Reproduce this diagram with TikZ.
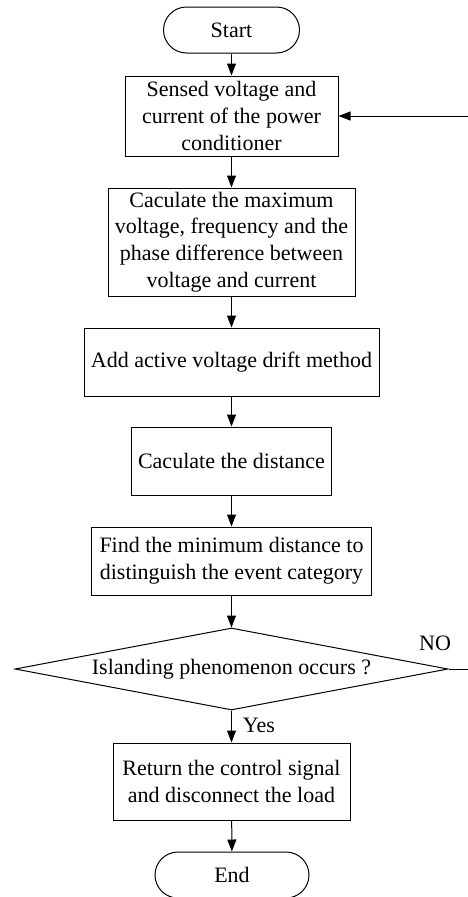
\documentclass[tikz,border=0pt]{standalone}
\usepackage{fontspec}
\setmainfont{Liberation Serif}
\usepackage{tikz}
\usetikzlibrary{shapes.geometric,arrows.meta}

\tikzset{
  procbox/.style={draw, rectangle, inner sep=0pt, align=center},
  termbox/.style={draw, rectangle, rounded corners=23pt, inner sep=0pt, minimum height=46pt},
  decbox/.style={draw, diamond, aspect=5.3, inner sep=0pt},
  flowarrow/.style={-{Triangle[width=9pt,length=12pt]}}
}

\begin{document}
\begin{tikzpicture}[x=1pt,y=-1pt,line width=1pt,font=\fontsize{22}{26.7}\selectfont]
\useasboundingbox (0,0) rectangle (467,897);
% steps of the flowchart
\node (start) [termbox, minimum width=136pt] at (231.5,30) {Start};
\node (sense) [procbox, minimum width=213pt, minimum height=80pt] at (231.5,116) {Sensed voltage and\\ current of the power\\ conditioner};
\node (calc) [procbox, minimum width=247pt, minimum height=108pt] at (231.5,242) {Caculate the maximum\\ voltage, frequency and the\\ phase difference between\\ voltage and current};
\node (drift) [procbox, minimum width=295pt, minimum height=68pt] at (231.5,362) {Add active voltage drift method};
\node (dist) [procbox, minimum width=200pt, minimum height=68pt] at (231.5,461) {Caculate the distance};
\node (find) [procbox, minimum width=280pt, minimum height=68pt] at (231.5,561) {Find the minimum distance to\\ distinguish the event category};
\node (island) [decbox, minimum width=433pt, minimum height=82pt] at (231.5,669) {Islanding phenomenon occurs ?};
\node (ret) [procbox, minimum width=237pt, minimum height=77pt] at (231.5,781.5) {Return the control signal\\ and disconnect the load};
\node (end) [termbox, minimum width=154pt] at (232,875) {End};
% labels
\node (yes) at (259,725) {Yes};
\node (no) at (435,643) {NO};
\coordinate (back) at (472,669);
% arrows
\draw[flowarrow] (start) -- (sense);
\draw[flowarrow] (sense) -- (calc);
\draw[flowarrow] (calc) -- (drift);
\draw[flowarrow] (drift) -- (dist);
\draw[flowarrow] (dist) -- (find);
\draw[flowarrow] (find) -- (island);
\draw[flowarrow] (island) -- (ret);
\draw[flowarrow] (ret) -- (end);
\draw[flowarrow] (island.east) -- (back) |- (sense.east);
\end{tikzpicture}
\end{document}
